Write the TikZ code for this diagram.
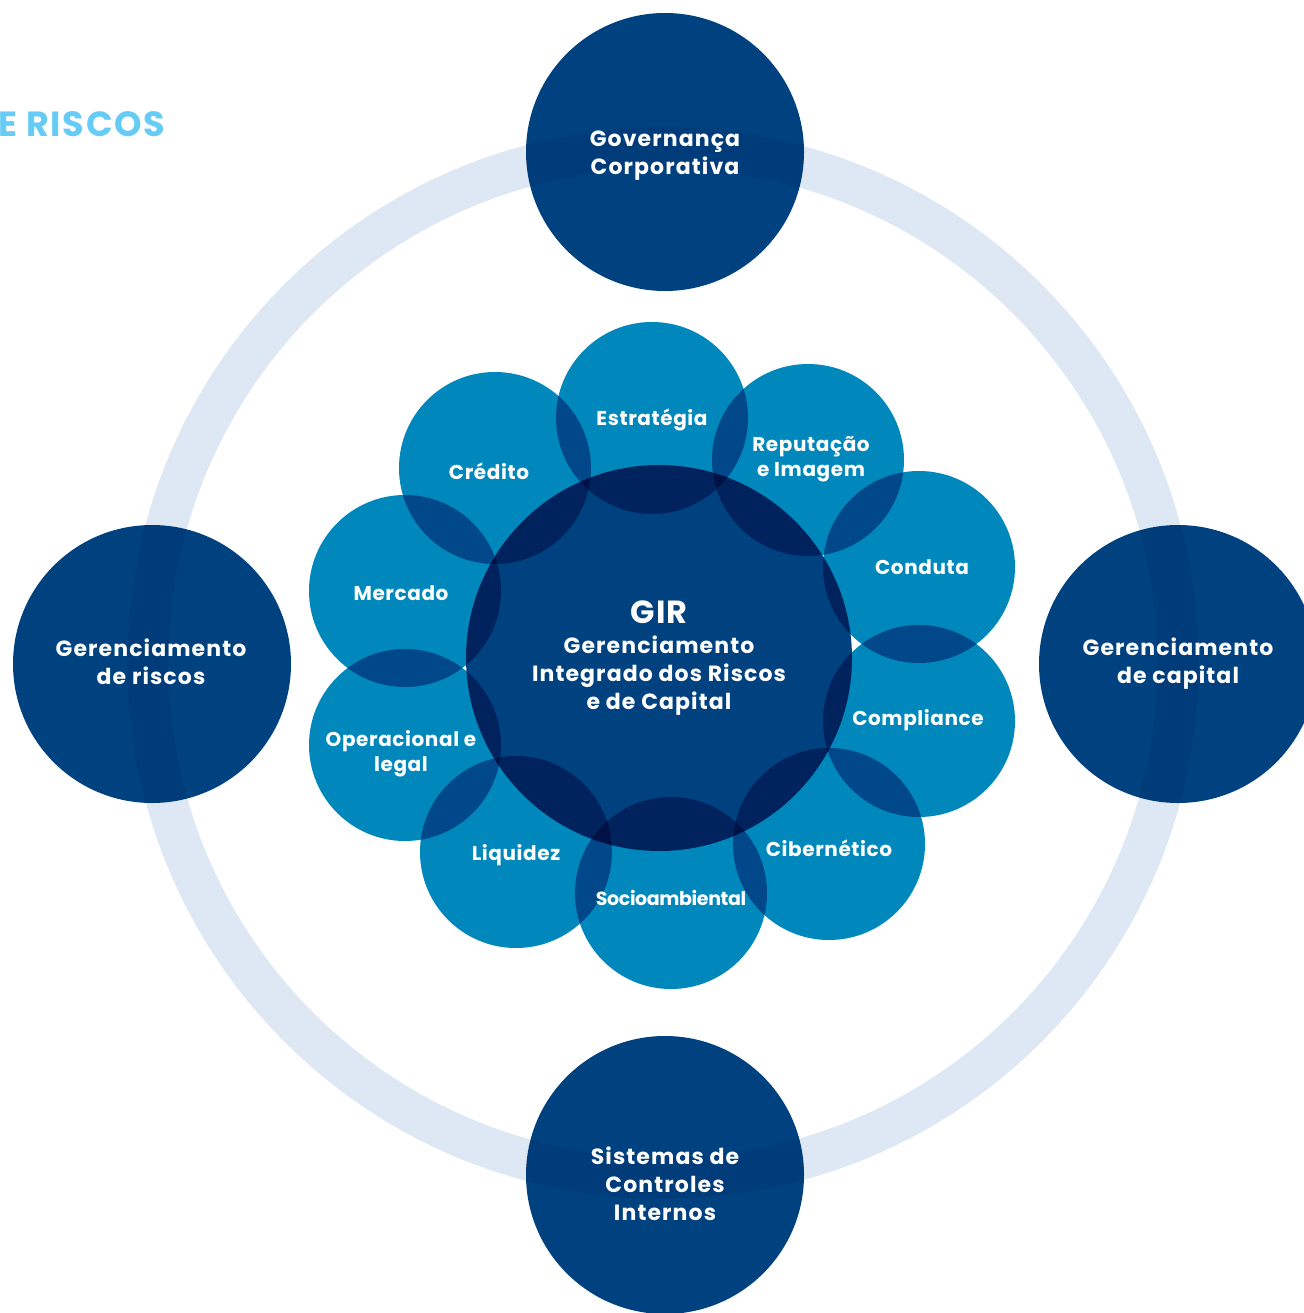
\documentclass[tikz,border=0pt]{standalone}
\usepackage{fontspec}
\setmainfont{Poppins}
\definecolor{ringblue}{HTML}{DDE8F4}
\definecolor{navy}{HTML}{004280}
\definecolor{petalblue}{HTML}{0088BC}
\definecolor{titleblue}{HTML}{66CCF5}
\begin{document}
\begin{tikzpicture}[x=1pt,y=-1pt,
  bigdisc/.style={fill=navy,blend mode=multiply},
  petal/.style={fill=petalblue,blend mode=multiply},
  biglbl/.style={align=center,text=white,inner sep=0,font=\bfseries\fontsize{22}{28}\selectfont\addfontfeature{LetterSpace=5}},
  petlbl/.style={align=center,text=white,inner sep=0,font=\bfseries\fontsize{20}{25}\selectfont\addfontfeature{LetterSpace=3}}]
\useasboundingbox (0,0) rectangle (1303,1313);
% outer ring
\draw[ringblue,line width=41] (663,663) circle[radius=515];
% the four pillars
\coordinate (gov) at (665,152);
\coordinate (risk) at (152,664);
\coordinate (cap) at (1178,664);
\coordinate (sci) at (665,1175);
\foreach \c in {gov,risk,cap,sci}
  \fill[bigdisc] (\c) circle[radius=139];
% petals round the centre
\coordinate (estr) at (652,418);
\coordinate (rep) at (808,460);
\coordinate (cond) at (919,567);
\coordinate (comp) at (919,721);
\coordinate (cib) at (829,844);
\coordinate (socio) at (671,893);
\coordinate (liq) at (516,852);
\coordinate (oper) at (405,745);
\coordinate (merc) at (405,591);
\coordinate (cred) at (495,468);
\foreach \p in {estr,rep,cond,comp,cib,socio,liq,oper,merc,cred}
  \fill[petal] (\p) circle[radius=96];
\coordinate (gir) at (659,658);
\fill[bigdisc] (gir) circle[radius=193];
% labels
\node[anchor=base west,inner sep=0,text=titleblue,font=\bfseries\fontsize{35}{40}\selectfont\addfontfeature{LetterSpace=5}] (title) at (-2,137) {E RISCOS};
\node[biglbl] (govlbl) at (665,156) {Governança\\Corporativa};
\node[biglbl] (risklbl) at (151,662) {Gerenciamento\\de riscos};
\node[biglbl] (caplbl) at (1178,664) {Gerenciamento\\de capital};
\node[biglbl] (scilbl) at (665,1184) {Sistemas de\\Controles\\Internos};
\node[biglbl,font=\bfseries\fontsize{32}{36}\selectfont\addfontfeature{LetterSpace=3}] (girlbl) at (659,612) {GIR};
\node[biglbl] (girtxt) at (659,676) {Gerenciamento\\Integrado dos Riscos\\e de Capital};
\node[petlbl] (estrlbl) at (652,420) {Estratégia};
\node[petlbl] (replbl) at (811,459) {Reputação\\e Imagem};
\node[petlbl] (condlbl) at (922,567) {Conduta};
\node[petlbl] (complbl) at (918,720) {Compliance};
\node[petlbl] (ciblbl) at (829,848) {Cibernético};
\node[petlbl,font=\bfseries\fontsize{19}{25}\selectfont\addfontfeature{LetterSpace=-2}] (sociolbl) at (671,898) {Socioambiental};
\node[petlbl] (liqlbl) at (516,855) {Liquidez};
\node[petlbl] (operlbl) at (401,754) {Operacional e\\legal};
\node[petlbl] (merclbl) at (401,593) {Mercado};
\node[petlbl] (credlbl) at (489,471) {Crédito};
\end{tikzpicture}
\end{document}
